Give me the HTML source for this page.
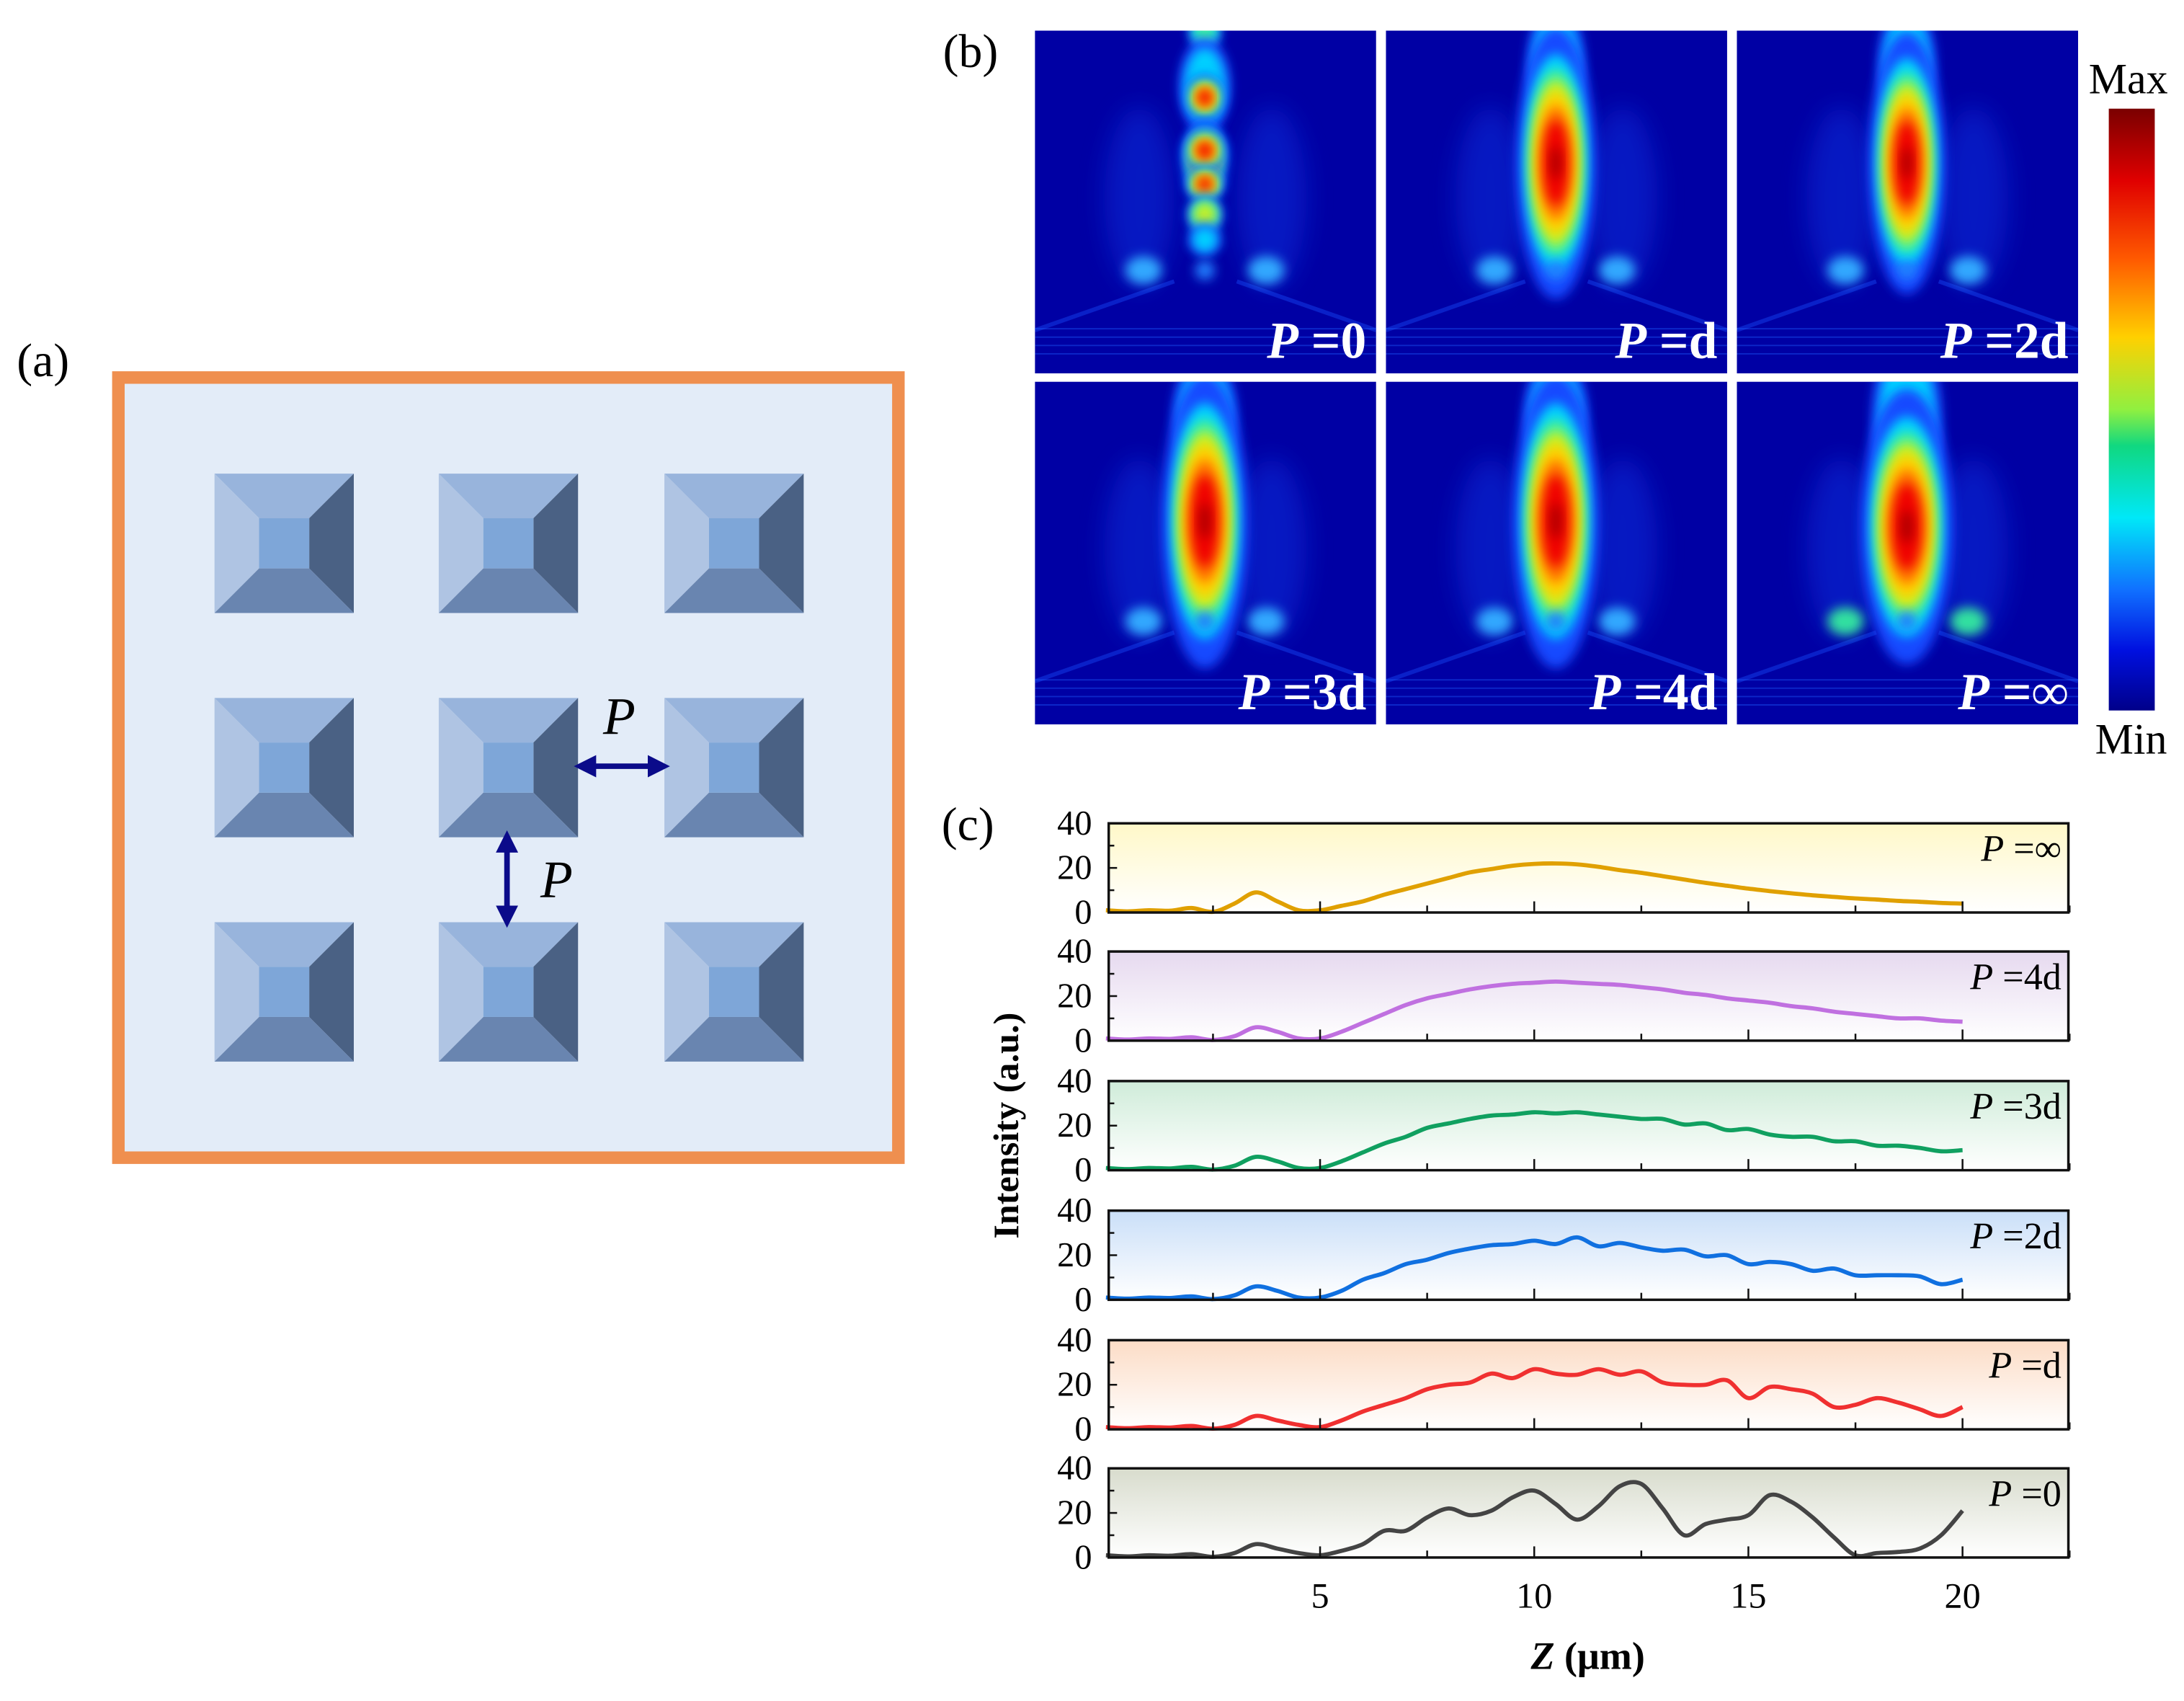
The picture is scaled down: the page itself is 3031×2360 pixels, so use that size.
<!DOCTYPE html>
<html><head><meta charset="utf-8"><style>
html,body{margin:0;padding:0;background:#fff}
svg{display:block}
text{font-family:"Liberation Serif",serif}
</style></head><body>
<svg id="fig" xmlns="http://www.w3.org/2000/svg" width="3031" height="2360" viewBox="0 0 1568 1221" preserveAspectRatio="none">
<defs>
<filter id="blur" x="-50%" y="-50%" width="200%" height="200%"><feGaussianBlur stdDeviation="4"/></filter>
<filter id="blur2" x="-50%" y="-50%" width="200%" height="200%"><feGaussianBlur stdDeviation="9"/></filter>
<clipPath id="clipHM"><rect x="0" y="0" width="245" height="246"/></clipPath>
<linearGradient id="cbar" x1="0" y1="0" x2="0" y2="1">
<stop offset="0" stop-color="#7a0000"/><stop offset="0.12" stop-color="#e00000"/><stop offset="0.25" stop-color="#ff5a00"/><stop offset="0.38" stop-color="#ffd000"/><stop offset="0.5" stop-color="#90f040"/><stop offset="0.56" stop-color="#10d880"/><stop offset="0.68" stop-color="#00e8f8"/><stop offset="0.8" stop-color="#1070ff"/><stop offset="0.9" stop-color="#0010e0"/><stop offset="1" stop-color="#00008a"/>
</linearGradient>
<marker id="ah" viewBox="0 0 10 10" refX="5" refY="5" markerWidth="4" markerHeight="4" orient="auto-start-reverse"><path d="M0,0 L10,5 L0,10 z" fill="#0b0b8a"/></marker>
</defs>

<!-- Panel (a) -->
<text x="12" y="270" font-size="34">(a)</text>
<rect x="85" y="271" width="560" height="560" fill="#e3ecf8" stroke="#ef8f4f" stroke-width="9"/>
<g id="pyramids"></g>
<line x1="420" y1="550" x2="473" y2="550" stroke="#0b0b8a" stroke-width="4" marker-start="url(#ah)" marker-end="url(#ah)"/>
<text x="433" y="527" font-size="38" font-style="italic">P</text>
<line x1="364" y1="604" x2="364" y2="658" stroke="#0b0b8a" stroke-width="4" marker-start="url(#ah)" marker-end="url(#ah)"/>
<text x="388" y="644" font-size="38" font-style="italic">P</text>

<!-- Panel (b) -->
<text x="677" y="48" font-size="34">(b)</text>
<g id="heatmaps"></g>
<rect x="1514" y="78" width="33" height="432" fill="url(#cbar)"/>
<text x="1528" y="67" font-size="31" text-anchor="middle">Max</text>
<text x="1530" y="541" font-size="31" text-anchor="middle">Min</text>

<!-- Panel (c) -->
<text x="676" y="603" font-size="34">(c)</text>
<g id="chart"></g>
<text transform="translate(731,808) rotate(-90)" font-size="26" font-weight="bold" text-anchor="middle">Intensity (a.u.)</text>
<text x="1140" y="1198" font-size="28" font-weight="bold" text-anchor="middle"><tspan font-style="italic">Z</tspan>  (μm)</text>
</svg>
<script>
// ---- chart data (panel c) ----
const zValues = [0,0.5,1,1.5,2,2.5,3,3.5,4,4.5,5,5.5,6,6.5,7,7.5,8,8.5,9,9.5,10,10.5,11,11.5,12,12.5,13,13.5,14,14.5,15,15.5,16,16.5,17,17.5,18,18.5,19,19.5,20];
const seriesNames = ["P =∞","P =4d","P =3d","P =2d","P =d","P =0"];
const seriesInf = [1,0.5,1,0.8,2,0.3,4,9,5,1,1,3,5,8,10.5,13,15.5,18,19.5,21,21.8,22,21.6,20.5,19,17.8,16.3,14.8,13.3,12,10.7,9.6,8.6,7.7,7,6.3,5.8,5.2,4.8,4.3,4];
const series4d = [1,0.5,1,0.8,1.5,0.3,2,6,4,1,1,4,8,12,16,19,21,23,24.5,25.5,26,26.5,26,25.5,25,24,23,21.5,20.5,19,18,17,15.5,14.5,13,12,11,10,10,9,8.5];
const series3d = [1,0.5,1,0.8,1.5,0.3,2,6,4,1,1,4,8,12,15,19,21,23,24.5,25,26,25.5,26,25,24,23,23,20.5,21,18,18.5,16,15,15,13,13,11,11,10,8.5,9];
const series2d = [1,0.5,1,0.8,1.5,0.3,2,6,4,1,1,4,9,12,16,18,21,23,24.5,25,26.5,25,28,24,25.5,23.5,22,22.5,19.5,20,16,17,16,13,14,11,11,11,10.5,7,9];
const series1d = [1,0.5,1,0.8,1.5,0.3,2,6,4,2,1,4,8,11,14,18,20,21,25,23,27,25,24.5,27,24.5,26,21,20,20,22,14,19,18,16,10,11,14,12,9,6,10];
const series0 = [1,0.5,1,0.8,1.5,0.3,2,6,4,2,1,3,6,12,12,18,22,19,21,27,30,24,17,23,32,33,22,10,15,17,19,28,25,18,9,1,2,2.5,4,10,21];
const yTicks = [0,20,40];
const xTickLabels = [5,10,15,20];

const NS = "http://www.w3.org/2000/svg";
function mk(tag, attrs, parent){const e=document.createElementNS(NS,tag);for(const k in attrs)e.setAttribute(k,attrs[k]);parent.appendChild(e);return e;}

// ---- pyramids ----
const pg = document.getElementById('pyramids');
const colsA=[154,315,477], rowsA=[340,501,662];
rowsA.forEach((y,ri)=>colsA.forEach((x,ci)=>{
  const g = mk('g',{},pg);
  
  
  const s=100,a=32,b=68;
  mk('polygon',{points:`${x},${y} ${x+s},${y} ${x+b},${y+a} ${x+a},${y+a}`,fill:'#98b4dc'},g);
  mk('polygon',{points:`${x},${y} ${x+a},${y+a} ${x+a},${y+b} ${x},${y+s}`,fill:'#afc4e3'},g);
  mk('polygon',{points:`${x+s},${y} ${x+s},${y+s} ${x+b},${y+b} ${x+b},${y+a}`,fill:'#4a6184'},g);
  mk('polygon',{points:`${x},${y+s} ${x+a},${y+b} ${x+b},${y+b} ${x+s},${y+s}`,fill:'#6985b0'},g);
  mk('rect',{x:x+a,y:y+a,width:b-a,height:b-a,fill:'#7ea6d8'},g);
}));

// ---- heatmaps ----
const hm = document.getElementById('heatmaps');
const hmCols=[743,995,1247], hmRows=[22,274];
const hmLabels=["P =0","P =d","P =2d","P =3d","P =4d","P =∞"];
const layers=[['#1448ff',1.15],['#00d0ff',0.92],['#40f0a0',0.8],['#c8f020',0.7],['#ffd000',0.6],['#ff7000',0.48],['#f00000',0.36],['#a80000',0.14]];
function blob(g,cx,cy,rx,ry,maxL){
  for(let i=0;i<=maxL&&i<layers.length;i++){
    const [c,f]=layers[i];
    mk('ellipse',{cx,cy,rx:rx*f,ry:ry*f,fill:c,filter:'url(#blur)'},g);
  }
}
const specs=[
 {blobs:[[122,0,10,12,2],[122,40,16,30,1],[122,48,12,14,6],[122,92,14,24,5],[122,86,13,14,6],[122,110,12,11,6],[122,132,11,12,3],[122,150,10,10,1]],spot:2},
 {blobs:[[122,25,18,40,1],[122,95,25,85,7]],spot:2},
 {blobs:[[122,25,18,40,1],[122,95,24,82,7]],spot:2},
 {blobs:[[122,25,20,40,1],[122,100,27,92,7]],spot:2},
 {blobs:[[122,25,20,40,1],[122,100,27,92,7]],spot:2},
 {blobs:[[122,30,22,60,1],[122,104,29,86,7]],spot:3}
];
hmRows.forEach((ry,r)=>hmCols.forEach((cx,c)=>{
  const idx=r*3+c, sp=specs[idx];
  const g=mk('g',{transform:`translate(${cx},${ry})`},hm);
  
  
  const inner=mk('g',{'clip-path':'url(#clipHM)'},g);
  mk('rect',{x:0,y:0,width:245,height:246,fill:'#0000a4'},inner);
  mk('ellipse',{cx:75,cy:120,rx:25,ry:65,fill:'#0a30e0',opacity:0.5,filter:'url(#blur2)'},inner);
  mk('ellipse',{cx:170,cy:120,rx:25,ry:65,fill:'#0a30e0',opacity:0.5,filter:'url(#blur2)'},inner);
  mk('line',{x1:0,y1:215,x2:100,y2:180,stroke:'#1a50ff',"stroke-width":3,opacity:0.4},inner);
  mk('line',{x1:245,y1:215,x2:145,y2:180,stroke:'#1a50ff',"stroke-width":3,opacity:0.4},inner);
  for(let k=0;k<4;k++) mk('line',{x1:0,y1:214+k*6,x2:245,y2:214+k*6,stroke:'#2060ff',"stroke-width":1,opacity:0.4},inner);
  sp.blobs.forEach(b=>blob(inner,b[0],b[1],b[2],b[3],b[4]));
  const sy=172;
  const spotC = sp.spot===3?'#30e0a0':'#30a8ff';
  mk('ellipse',{cx:78,cy:sy,rx:13,ry:10,fill:spotC,filter:'url(#blur)'},inner);
  mk('ellipse',{cx:166,cy:sy,rx:13,ry:10,fill:spotC,filter:'url(#blur)'},inner);
  mk('ellipse',{cx:122,cy:sy,rx:7,ry:7,fill:'#2080ff',filter:'url(#blur)'},inner);
  const t=mk('text',{x:238,y:235,'font-size':37,'font-weight':'bold','text-anchor':'end',fill:'#fff'},g);
  
  
  const lab=hmLabels[idx];
  const ts=mk('tspan',{'font-style':'italic'},t); ts.textContent='P';
  const ts2=mk('tspan',{},t); ts2.textContent=lab.slice(1);
}));

// ---- line chart ----
const chart=document.getElementById('chart');
const seriesData=[seriesInf,series4d,series3d,series2d,series1d,series0];
const colors=['#e0a000','#c070e0','#10a060','#1070e0','#f03030','#444444'];
const bgs=['#fff8c8','#e6d9ef','#cfecd9','#cadff8','#fcdcc6','#d8dccd'];
const X0=796,X1=1485,xPerUnit=30.75,xOrigin=794;
const panelTops=[591,683,776,869,962,1054], PH=64, yMax=40;
const xs=v=>xOrigin+v*xPerUnit;
function path(pts){
  let d=`M${pts[0][0]},${pts[0][1]}`;
  for(let i=0;i<pts.length-1;i++){
    const p0=pts[Math.max(0,i-1)],p1=pts[i],p2=pts[i+1],p3=pts[Math.min(pts.length-1,i+2)];
    const c1=[p1[0]+(p2[0]-p0[0])/6,p1[1]+(p2[1]-p0[1])/6],c2=[p2[0]-(p3[0]-p1[0])/6,p2[1]-(p3[1]-p1[1])/6];
    d+=` C${c1[0]},${c1[1]} ${c2[0]},${c2[1]} ${p2[0]},${p2[1]}`;
  }
  return d;
}
seriesData.forEach((ser,si)=>{
  const top=panelTops[si], bot=top+PH;
  const ys=v=>bot-v/yMax*PH;
  const g=mk('g',{},chart);
  
  
  const gid='bg'+si;
  const lg=mk('linearGradient',{id:gid,x1:0,y1:0,x2:0,y2:1},document.querySelector('defs'));
  mk('stop',{offset:0,'stop-color':bgs[si]},lg); mk('stop',{offset:1,'stop-color':'#ffffff'},lg);
  const bg=mk('rect',{x:X0,y:top,width:X1-X0,height:PH,fill:`url(#${gid})`},g);
  
  
  const pts=zValues.map((z,i)=>[xs(z),ys(ser[i])]);
  const line=mk('path',{d:path(pts),fill:'none',stroke:colors[si],'stroke-width':3,'stroke-linejoin':'round'},g);
  
  
  const fr=mk('rect',{x:X0,y:top,width:X1-X0,height:PH,fill:'none',stroke:'#111','stroke-width':1.8},g);
  
  
  for(let v=0;v<=yMax;v+=10){const L=v%20===0?6:4;mk('line',{x1:X0,y1:ys(v),x2:X0+L,y2:ys(v),stroke:'#111','stroke-width':1.3},g);}
  yTicks.forEach(v=>{
    const t=mk('text',{x:784,y:ys(v)+8,'font-size':25,'text-anchor':'end'},g);
    
    
    t.textContent=v;
  });
  for(let z=2.5;z<=22.5;z+=2.5){const L=z%5===0?8:5;mk('line',{x1:xs(z),y1:bot,x2:xs(z),y2:bot-L,stroke:'#111','stroke-width':1.3},g);}
  const t=mk('text',{x:1480,y:top+27,'font-size':27,'text-anchor':'end'},g);
  
  
  const a=mk('tspan',{'font-style':'italic'},t);a.textContent='P';
  const b=mk('tspan',{},t);b.textContent=seriesNames[si].slice(1);
});
xTickLabels.forEach(v=>{
  const t=mk('text',{x:xs(v),y:1154,'font-size':26,'text-anchor':'middle'},chart);
  
  
  t.textContent=v;
});
</script>
</body></html>
